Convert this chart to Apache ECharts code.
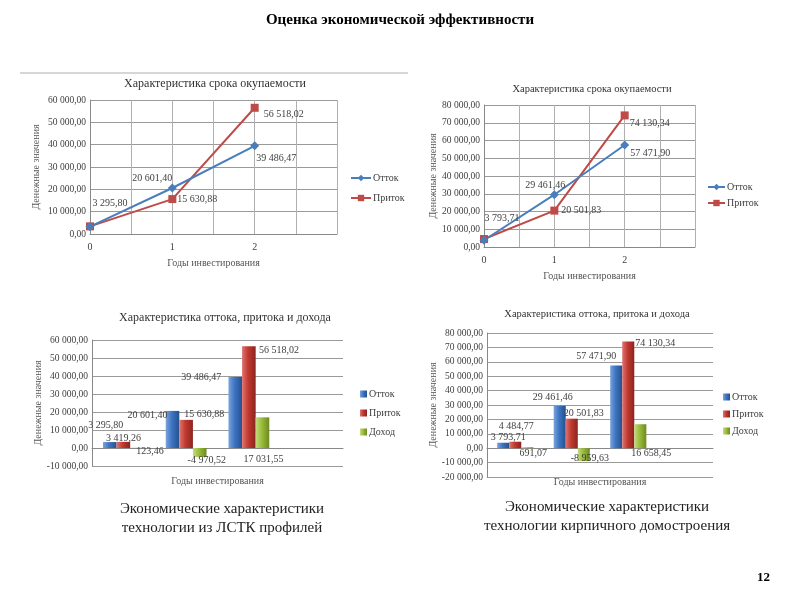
<!DOCTYPE html>
<html><head><meta charset="utf-8">
<script src="https://cdn.jsdelivr.net/npm/echarts@6/dist/echarts.min.js"></script>
<style>html,body{margin:0;padding:0;background:#fff}#c{width:800px;height:600px}</style>
</head><body><div id="c"></div>
<script>
// ---- data ----
const years = [0, 1, 2];
const barCategories = ['0', '1', '2', ''];
const lstkOutflow = [3295.80, 20601.40, 39486.47];
const lstkInflow = [3419.26, 15630.88, 56518.02];
const lstkIncome = [123.46, -4970.52, 17031.55];
const brickOutflow = [3793.71, 29461.46, 57471.90];
const brickInflow = [4484.77, 20501.83, 74130.34];
const brickIncome = [691.07, -8959.63, 16658.45];
const seriesNames = ['Отток', 'Приток', 'Доход'];
const yRangeLine1 = [0, 60000];
const yRangeLine2 = [0, 80000];
const yRangeBar1 = [-10000, 60000];
const yRangeBar2 = [-20000, 80000];
const yStep = 10000;

// ---- helpers ----
function fmt(v) {
  const neg = v < 0;
  let [i, d] = Math.abs(v).toFixed(2).split('.');
  i = i.replace(/\B(?=(\d{3})+(?!\d))/g, ' ');
  return (neg ? '-' : '') + i + ',' + d;
}
const FONT = '"Liberation Serif", "DejaVu Serif", serif';
const TXT = '#404040';
const BLUE = '#4A7EBB', RED = '#BE4B48';
function grad(light, mid, dark) {
  return new echarts.graphic.LinearGradient(0, 0, 1, 0, [
    {offset: 0, color: light}, {offset: 0.45, color: mid}, {offset: 1, color: dark}]);
}
const barColors = [
  grad('#7aa3dc', '#3d74c2', '#24518f'),
  grad('#e07370', '#c0392f', '#8c2320'),
  grad('#c3dc7e', '#9bbb3a', '#6c8a22')
];

function lineData(vals, labelCfg) {
  return years.map((x, i) => {
    const c = labelCfg[i];
    const item = {value: [x, vals[i]]};
    item.label = c ? {show: true, position: c[0], offset: [c[1], c[2]]} : {show: false};
    return item;
  });
}
function barData(vals, labelCfg) {
  return vals.map((v, i) => ({
    value: v,
    label: {show: true, position: labelCfg[i][0], offset: [labelCfg[i][1], labelCfg[i][2]]}
  }));
}

const labelText = {fontFamily: FONT, fontSize: 10, color: TXT, formatter: p => fmt(Array.isArray(p.value) ? p.value[1] : p.value)};

function valueY(gi, range) {
  return {
    type: 'value', gridIndex: gi, min: range[0], max: range[1], interval: yStep,
    name: 'Денежные значения', nameLocation: 'middle', nameRotate: 90,
    nameGap: gi === 0 || gi === 2 ? 49 : 42,
    nameTextStyle: {fontFamily: FONT, fontSize: 10, color: '#555'},
    axisLabel: {fontFamily: FONT, fontSize: 9.5, color: TXT, formatter: v => fmt(v), margin: 4},
    axisLine: {show: true, lineStyle: {color: '#888'}},
    axisTick: {show: false},
    splitLine: {lineStyle: {color: '#9a9a9a', width: 1}}
  };
}
function lineX(gi) {
  return {
    type: 'value', gridIndex: gi, min: 0, max: 3, interval: 0.5,
    name: 'Годы инвестирования', nameLocation: 'middle', nameGap: 24,
    nameTextStyle: {fontFamily: FONT, fontSize: 10, color: '#555'},
    axisLabel: {fontFamily: FONT, fontSize: 10, color: TXT,
      formatter: v => (Number.isInteger(v) && v < 3 ? String(v) : '')},
    axisLine: {show: true, lineStyle: {color: '#888'}},
    axisTick: {show: false},
    splitLine: {show: true, lineStyle: {color: '#b0b0b0'}}
  };
}
function barX(gi, gap) {
  return {
    type: 'category', gridIndex: gi, data: barCategories,
    name: 'Годы инвестирования', nameLocation: 'middle', nameGap: gap,
    nameTextStyle: {fontFamily: FONT, fontSize: 10, color: '#555'},
    axisLabel: {show: false},
    axisLine: {show: true, onZero: true, lineStyle: {color: '#888'}},
    axisTick: {show: false}
  };
}

const lineSeries = (name, gi, vals, color, symbol, cfg) => ({
  type: 'line', name: name + '|' + gi, xAxisIndex: gi, yAxisIndex: gi,
  data: lineData(vals, cfg), symbol: symbol, symbolSize: symbol === 'rect' ? 8 : 9,
  lineStyle: {color: color, width: 2}, itemStyle: {color: color},
  label: labelText, animation: false
});
const barSeries = (idx, gi, vals, cfg, gap) => ({
  type: 'bar', name: seriesNames[idx] + '|' + gi, xAxisIndex: gi, yAxisIndex: gi,
  data: barData(vals, cfg), barGap: '0%', barCategoryGap: gap,
  itemStyle: {color: barColors[idx]}, label: labelText, animation: false
});

const legendBase = (names, left, top, isBar, gap, w) => ({
  data: names, left: left, top: top, orient: 'vertical', itemGap: gap,
  itemWidth: isBar ? 7 : w, itemHeight: isBar ? 7 : 8,
  icon: isBar ? 'rect' : undefined,
  formatter: n => n.split('|')[0],
  textStyle: {fontFamily: FONT, fontSize: 10, color: TXT, padding: [0, 0, 0, -3]},
  selectedMode: false
});

const option = {
  backgroundColor: '#fff',
  animation: false,
  title: [
    {text: 'Характеристика срока окупаемости', left: 210, top: 73, textAlign: 'center',
     textStyle: {fontFamily: FONT, fontSize: 12, fontWeight: 'normal', color: '#333'}},
    {text: 'Характеристика срока окупаемости', left: 587, top: 79, textAlign: 'center',
     textStyle: {fontFamily: FONT, fontSize: 10.5, fontWeight: 'normal', color: '#333'}},
    {text: 'Характеристика оттока, притока и дохода', left: 220, top: 307, textAlign: 'center',
     textStyle: {fontFamily: FONT, fontSize: 12, fontWeight: 'normal', color: '#333'}},
    {text: 'Характеристика оттока, притока и дохода', left: 592, top: 304, textAlign: 'center',
     textStyle: {fontFamily: FONT, fontSize: 10.5, fontWeight: 'normal', color: '#333'}}
  ],
  legend: [
    legendBase(['Отток|0', 'Приток|0'], 345, 168, false, 10, 20),
    legendBase(['Отток|1', 'Приток|1'], 702, 177, false, 6, 17),
    legendBase(['Отток|2', 'Приток|2', 'Доход|2'], 355, 384, true, 9),
    legendBase(['Отток|3', 'Приток|3', 'Доход|3'], 718, 387, true, 7)
  ],
  grid: [
    {left: 90, top: 100, width: 247, height: 134},
    {left: 484, top: 105, width: 211, height: 142},
    {left: 92, top: 340, width: 251, height: 126},
    {left: 487, top: 333, width: 226, height: 144}
  ],
  xAxis: [lineX(0), lineX(1), barX(2, 10), barX(3, 0)],
  yAxis: [valueY(0, yRangeLine1), valueY(1, yRangeLine2), valueY(2, yRangeBar1), valueY(3, yRangeBar2)],
  series: [
    lineSeries('Приток', 0, lstkInflow, RED, 'rect', [null, ['right', -4, 0], ['right', 0, 7]]),
    lineSeries('Отток', 0, lstkOutflow, BLUE, 'diamond', [['top', 20, -9], ['top', -20, 5], ['right', -8, 13]]),
    lineSeries('Приток', 1, brickInflow, RED, 'rect', [null, ['right', -2, 0], ['right', -4, 8]]),
    lineSeries('Отток', 1, brickOutflow, BLUE, 'diamond', [['top', 18, -7], ['top', -9, 5], ['right', -4, 8]]),
    barSeries(0, 2, lstkOutflow, [['top', -4, -7], ['top', -25, 14], ['top', -34, 10]], '35%'),
    barSeries(1, 2, lstkInflow, [['top', 0, 7], ['top', 18, 5], ['top', 30, 14]], '35%'),
    barSeries(2, 2, lstkIncome, [['bottom', 13, -7], ['bottom', 7, -7], ['bottom', 1, 1]], '35%'),
    barSeries(0, 3, brickOutflow, [['top', 5, 5], ['top', -7, 2], ['top', -20, 1]], '36%'),
    barSeries(1, 3, brickInflow, [['top', 1, -5], ['top', 12, 5], ['top', 27, 12]], '36%'),
    barSeries(2, 3, brickIncome, [['bottom', 6, -5], ['bottom', 6, -13], ['bottom', 11, -5]], '36%')
  ],
  graphic: [
    {type: 'text', left: 'center', top: 13, style: {text: 'Оценка экономической эффективности',
      font: 'bold 15px ' + FONT, fill: '#000'}},
    {type: 'line', shape: {x1: 20, y1: 73, x2: 408, y2: 73}, style: {stroke: '#c8c8c8', lineWidth: 1.5}},
    {type: 'text', x: 222, y: 500, style: {text: 'Экономические характеристики\nтехнологии из ЛСТК профилей',
      font: '15px ' + FONT, fill: '#222', align: 'center', lineHeight: 19}},
    {type: 'text', x: 607, y: 498, style: {text: 'Экономические характеристики\nтехнологии кирпичного домостроения',
      font: '15px ' + FONT, fill: '#222', align: 'center', lineHeight: 19}},
    {type: 'text', x: 757, y: 571, style: {text: '12', font: 'bold 13px ' + FONT, fill: '#000'}}
  ]
};
const chart = echarts.init(document.getElementById('c'));
chart.setOption(option);
</script>
</body></html>
